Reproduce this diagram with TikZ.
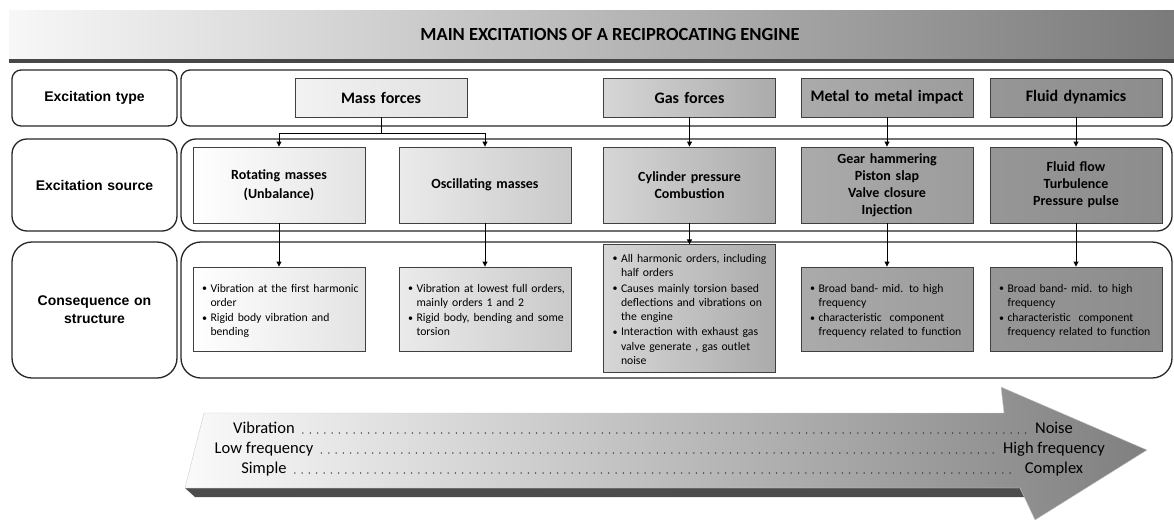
\documentclass[tikz,border=0pt]{standalone}
\usepackage{fontspec}
\setmainfont{Carlito}
\newfontfamily\arialfont{Liberation Sans}
\usetikzlibrary{arrows.meta}

\newcommand{\itm}[1]{\par\noindent\makebox[8.5pt][l]{\raisebox{0.6pt}{\fontsize{10}{10}\selectfont\textbullet}}%
  \begin{tabular}[t]{@{}l@{}}#1\end{tabular}\par}

\begin{document}
\begin{tikzpicture}[x=1pt,y=-1pt]

\tikzset{
  RowLabelStyle/.style = { rectangle, draw=black!85, line width=1.3pt, fill=white,
                          minimum width=165, text width=150, align=center,
                          font=\arialfont\bfseries\fontsize{14}{18}\selectfont },
  RowBoxStyle/.style = { rectangle, draw=black!85, line width=1.3pt, fill=white,
                         minimum width=991 },
  BoxStyle/.style = { rectangle, draw=black!75, line width=0.9pt, inner xsep=6,
                      text width=160, minimum width=172, align=center,
                      font=\bfseries\fontsize{14}{17}\selectfont },
  TypeStyle/.style = { BoxStyle, minimum height=39,
                       font=\bfseries\fontsize{16}{19}\selectfont },
  ListStyle/.style = { rectangle, draw=black!75, line width=0.9pt, inner xsep=9,
                       text width=154, minimum width=172, minimum height=84, align=left,
                       font=\fontsize{11.7}{14.3}\selectfont },
  EdgeStyle/.style = { draw=black, line width=0.9pt, -{Triangle[length=5pt,width=5pt]} },
  ArrowTextStyle/.style = { inner sep=0pt, font=\fontsize{16.5}{19}\selectfont },
  LeaderStyle/.style = { draw=black!85, line width=1.5pt, line cap=round,
                         dash pattern=on 0pt off 7.3pt }
}

  \useasboundingbox (0,0) rectangle (1174,522);

  % title banner
  \shade[left color=black!3, right color=black!52] (9,10) rectangle (1174,59);
  \fill[black!72] (9,59) rectangle (1174,63);
  \node[font=\bfseries\fontsize{18.5}{21}\selectfont] (title) at (610,34)
    {MAIN EXCITATIONS OF A RECIPROCATING ENGINE};

  % row frames
  \node[RowLabelStyle, minimum height=56, rounded corners=9] (typeLbl) at (94.5,98) {Excitation type};
  \node[RowLabelStyle, minimum height=92, rounded corners=15] (srcLbl) at (94.5,185) {Excitation source};
  \node[RowLabelStyle, minimum height=136, rounded corners=20] (conLbl) at (94.5,310) {Consequence on\\structure};

  \node[RowBoxStyle, minimum height=56, rounded corners=9] (typeRow) at (676.5,98) {};
  \node[RowBoxStyle, minimum height=92, rounded corners=15] (srcRow) at (676.5,185) {};
  \node[RowBoxStyle, minimum height=136, rounded corners=20] (conRow) at (676.5,310) {};

  % excitation type
  \node[TypeStyle, left color=black!5, right color=black!12] (mass) at (381,97.5) {Mass forces};
  \node[TypeStyle, left color=black!16, right color=black!33] (gas) at (689.5,97.5) {Gas forces};
  \node[TypeStyle, left color=black!33, right color=black!39] (metal) at (887,97.5) {Metal to metal impact};
  \node[TypeStyle, left color=black!41, right color=black!45] (fluid) at (1076,97.5) {Fluid dynamics};

  % excitation source
  \node[BoxStyle, minimum height=76, left color=white, right color=black!11] (rot) at (279,185) {Rotating masses\\[2pt](Unbalance)};
  \node[BoxStyle, minimum height=76, left color=black!8, right color=black!21] (osc) at (485,185) {Oscillating masses};
  \node[BoxStyle, minimum height=76, left color=black!16, right color=black!33] (cyl) at (689.5,185) {Cylinder pressure\\Combustion};
  \node[BoxStyle, minimum height=76, left color=black!33, right color=black!39] (gear) at (887,185) {Gear hammering\\Piston slap\\Valve closure\\Injection};
  \node[BoxStyle, minimum height=76, left color=black!41, right color=black!45] (flow) at (1076,185) {Fluid flow\\Turbulence\\Pressure pulse};

  % consequence on structure
  \node[ListStyle, left color=white, right color=black!11] (rotC) at (279,309) {%
    \itm{Vibration at the first harmonic\\order}%
    \itm{Rigid body vibration and\\bending}};
  \node[ListStyle, left color=black!8, right color=black!21] (oscC) at (485,309) {%
    \itm{Vibration at lowest full orders,\\mainly orders 1 and 2}%
    \itm{Rigid body, bending and some\\torsion}};
  \node[ListStyle, minimum height=117, left color=black!16, right color=black!33] (cylC) at (689.5,308.5) {%
    \itm{All harmonic orders, including\\half orders}%
    \itm{Causes mainly torsion based\\deflections and vibrations on\\the engine}%
    \itm{Interaction with exhaust gas\\valve generate , gas outlet\\noise}};
  \node[ListStyle, left color=black!33, right color=black!39] (gearC) at (887,309) {%
    \itm{Broad band- mid. to high\\frequency}%
    \itm{characteristic\ \ component\\frequency related to function}};
  \node[ListStyle, left color=black!41, right color=black!45] (flowC) at (1076,309) {%
    \itm{Broad band- mid. to high\\frequency}%
    \itm{characteristic\ \ component\\frequency related to function}};

  % connectors
  \coordinate (split) at (381,133);
  \draw[line width=0.9pt] (mass) -- (split);
  \draw[EdgeStyle] (split) -| (rot);
  \draw[EdgeStyle] (split) -| (osc);
  \draw[EdgeStyle] (gas) -- (cyl);
  \draw[EdgeStyle] (metal) -- (gear);
  \draw[EdgeStyle] (fluid) -- (flow);

  \draw[EdgeStyle] (rot) -- (rotC);
  \draw[EdgeStyle] (osc) -- (oscC);
  \draw[EdgeStyle] (cyl) -- (cylC);
  \draw[EdgeStyle] (gear) -- (gearC);
  \draw[EdgeStyle] (flow) -- (flowC);

  % big arrow
  \fill[black!70] (185,488) -- (1020,488) -- (1027,497) -- (195,497) -- cycle;
  \shade[left color=black!2, right color=black!50, draw=black!20, line width=0.4pt]
    (204,413) -- (1004,413) -- (1001,387) -- (1147,450) -- (1035,520)
    -- (1020,488) -- (185,488) -- cycle;

  \node[ArrowTextStyle, anchor=base] (vib) at (264,433) {Vibration};
  \node[ArrowTextStyle, anchor=base] (low) at (264,453) {Low frequency};
  \node[ArrowTextStyle, anchor=base] (simple) at (264,473) {Simple};
  \node[ArrowTextStyle, anchor=base] (noise) at (1054,433) {Noise};
  \node[ArrowTextStyle, anchor=base] (high) at (1054,453) {High frequency};
  \node[ArrowTextStyle, anchor=base] (complex) at (1054,473) {Complex};

  \draw[LeaderStyle] ([xshift=8pt]vib.base east) -- ([xshift=-8pt]noise.base west);
  \draw[LeaderStyle] ([xshift=8pt]low.base east) -- ([xshift=-8pt]high.base west);
  \draw[LeaderStyle] ([xshift=8pt]simple.base east) -- ([xshift=-8pt]complex.base west);

\end{tikzpicture}
\end{document}
